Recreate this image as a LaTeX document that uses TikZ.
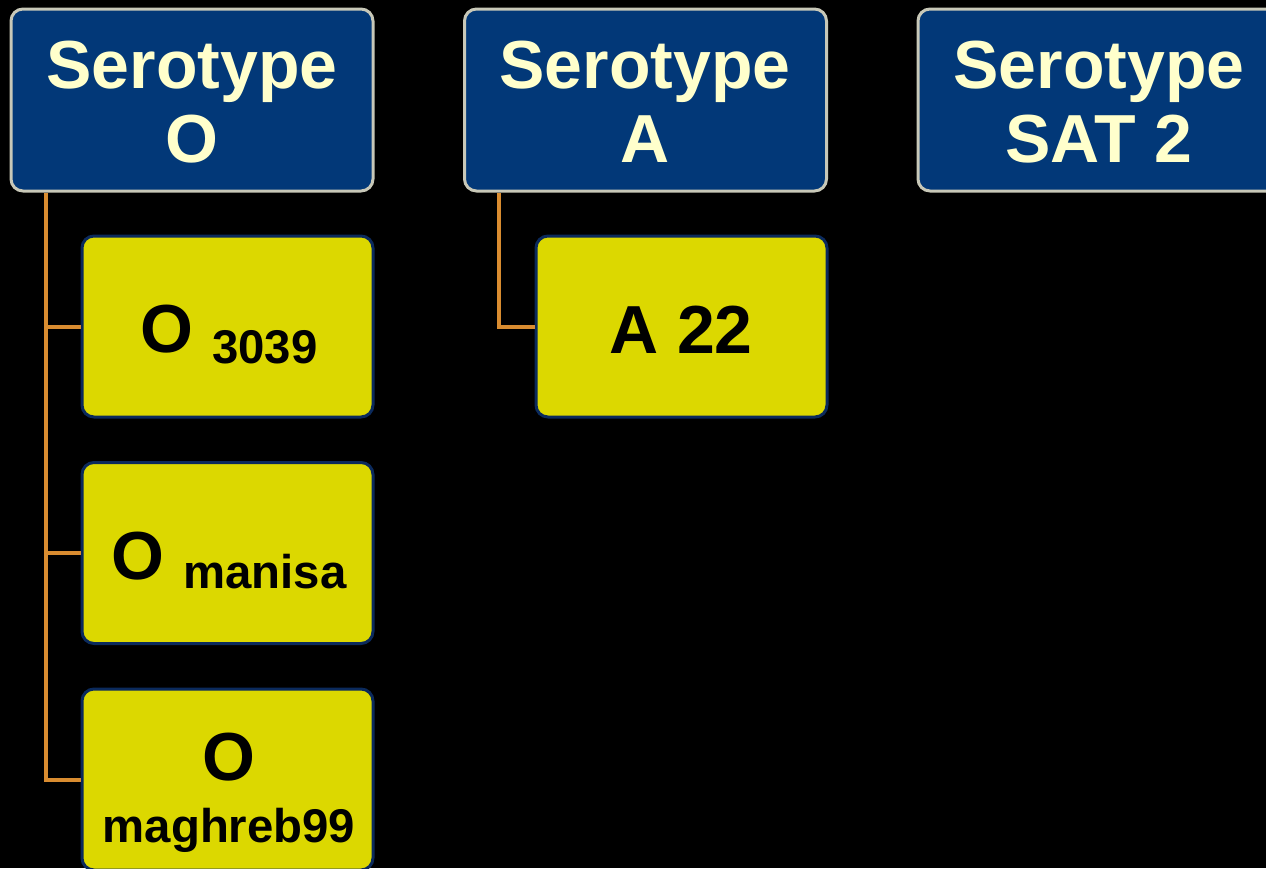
\documentclass[tikz,border=0pt]{standalone}
\usepackage{fontspec}
\setmainfont{Liberation Sans}
\definecolor{bgblack}{HTML}{000000}
\definecolor{serblue}{HTML}{023878}
\definecolor{serrim}{HTML}{C8C8B8}
\definecolor{cream}{HTML}{FFFFCC}
\definecolor{strainyellow}{HTML}{DCD800}
\definecolor{strainrim}{HTML}{0B2A5C}
\definecolor{connorange}{HTML}{D98C30}
\tikzset{
  serobox/.style={draw=serrim, line width=2.25pt, fill=serblue, rounded corners=9pt,
    minimum width=362*0.75pt, minimum height=182*0.75pt, inner sep=0pt},
  strainbox/.style={draw=strainrim, line width=2.25pt, fill=strainyellow, rounded corners=9pt,
    minimum width=291*0.75pt, minimum height=181*0.75pt, inner sep=0pt},
  serotext/.style={anchor=base, text=cream, inner sep=0pt, font=\bfseries\fontsize{51}{60}\selectfont},
  straintext/.style={anchor=base, text=black, inner sep=0pt, font=\bfseries\fontsize{51}{60}\selectfont},
  subtext/.style={anchor=base, text=black, inner sep=0pt, font=\bfseries\fontsize{35.5}{42}\selectfont},
  conn/.style={draw=connorange, line width=3pt}
}
\newcommand{\subfont}{\fontsize{35.5}{42}\selectfont}
\begin{document}
\begin{tikzpicture}[x=0.75pt, y=-0.75pt]
  \fill[bgblack] (0,0) rectangle (1266,868);
  \useasboundingbox (0,0) rectangle (1266,868);

  % serotype boxes
  \node[serobox] (bO) at (192,100) {};
  \node[serobox] (bA) at (645.5,100) {};
  \node[serobox, minimum width=364*0.75pt] (bS) at (1100,100) {};

  % strain boxes
  \node[strainbox] (y1) at (227.5,326.5) {};
  \node[strainbox] (y2) at (227.5,553) {};
  \node[strainbox] (y3) at (227.5,779.5) {};
  \node[strainbox] (yA) at (681.5,326.5) {};

  % connectors
  \draw[conn] (y3.west) -| ([xshift=27pt]bO.south west);
  \draw[conn] (y2.west) -| ([xshift=27pt]bO.south west);
  \draw[conn] (y1.west) -| ([xshift=27pt]bO.south west);
  \draw[conn] (yA.west) -| ([xshift=27pt]bA.south west);

  % serotype labels
  \node[serotext] (tO1) at (192,88) {Serotype};
  \node[serotext] (tO2) at (192,162) {O};
  \node[serotext] (tA1) at (645,88) {Serotype};
  \node[serotext] (tA2) at (645,162) {A};
  \node[serotext] (tS1) at (1099,88) {Serotype};
  \node[serotext] (tS2) at (1099,162) {SAT 2};

  % strain labels
  \node[straintext] (t1) at (229,352) {O \raisebox{-8.25pt}{\subfont 3039}};
  \node[straintext] (t2) at (229,579) {O \raisebox{-7pt}{\subfont manisa}};
  \node[straintext] (t3a) at (229,780) {O};
  \node[subtext] (t3b) at (229,842) {maghreb99};
  \node[straintext] (tA) at (681,353) {A 22};
\end{tikzpicture}
\end{document}
